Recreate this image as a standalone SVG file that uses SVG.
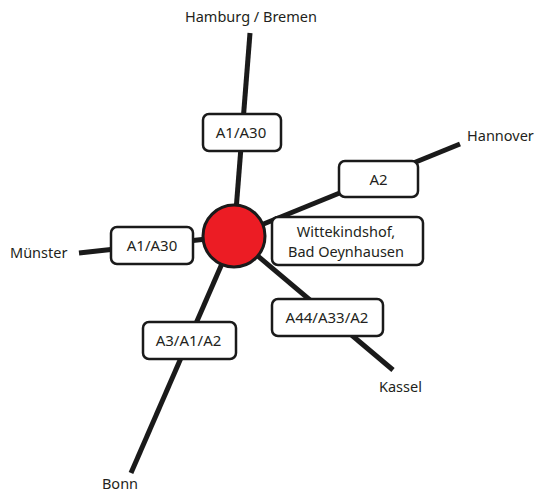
<svg xmlns="http://www.w3.org/2000/svg" width="537" height="492" viewBox="0 0 537 492">
<style>
.road{stroke:#1a1a1a;stroke-width:5;fill:none}
.box{fill:#fff;stroke:#1a1a1a;stroke-width:2.5}
.lbl{font-family:"Noto Sans",Lato,sans-serif;font-size:15px;fill:#231f20;text-anchor:middle}
.lbl2{font-family:"Noto Sans",Lato,sans-serif;font-size:14.5px;fill:#231f20;text-anchor:middle}
.city{font-family:"Noto Sans",Lato,sans-serif;font-size:14.5px;fill:#231f20}
</style>
<rect width="537" height="492" fill="#fff"/>
<g id="connectors">
<line class="road" x1="250" y1="33" x2="234" y2="236"/>
<line class="road" x1="460" y1="144" x2="234" y2="236"/>
<line class="road" x1="79" y1="253" x2="234" y2="236"/>
<line class="road" x1="131" y1="473" x2="234" y2="236"/>
<line class="road" x1="393" y1="370" x2="234" y2="236"/>
</g>
<g id="hub"><circle cx="234" cy="236" r="31" fill="#ec1c24" stroke="#1a1a1a" stroke-width="3"/></g>
<g id="box-a1a30-n"><rect class="box" x="203" y="114" width="78" height="37" rx="6"/><text class="lbl" x="241" y="138">A1/A30</text></g>
<g id="box-a2"><rect class="box" x="339" y="161" width="79" height="36" rx="6"/><text class="lbl" x="378.5" y="184.5">A2</text></g>
<g id="box-wittekindshof"><rect class="box" x="272" y="217" width="151" height="48" rx="6"/><text class="lbl2" x="346" y="236.5">Wittekindshof,</text><text class="lbl2" x="346" y="256.5">Bad Oeynhausen</text></g>
<g id="box-a1a30-w"><rect class="box" x="111" y="227" width="82" height="37" rx="6"/><text class="lbl" x="152" y="251">A1/A30</text></g>
<g id="box-a3"><rect class="box" x="143" y="322" width="93" height="37" rx="6"/><text class="lbl" x="188.5" y="346">A3/A1/A2</text></g>
<g id="box-a44"><rect class="box" x="272" y="299" width="111" height="37" rx="6"/><text class="lbl" x="327" y="323">A44/A33/A2</text></g>
<g id="city-hamburg"><text class="city" x="251" y="22" text-anchor="middle">Hamburg / Bremen</text></g>
<g id="city-hannover"><text class="city" x="467" y="141">Hannover</text></g>
<g id="city-muenster"><text class="city" x="10" y="258">Münster</text></g>
<g id="city-kassel"><text class="city" x="379" y="392">Kassel</text></g>
<g id="city-bonn"><text class="city" x="120" y="489" text-anchor="middle">Bonn</text></g>
</svg>
